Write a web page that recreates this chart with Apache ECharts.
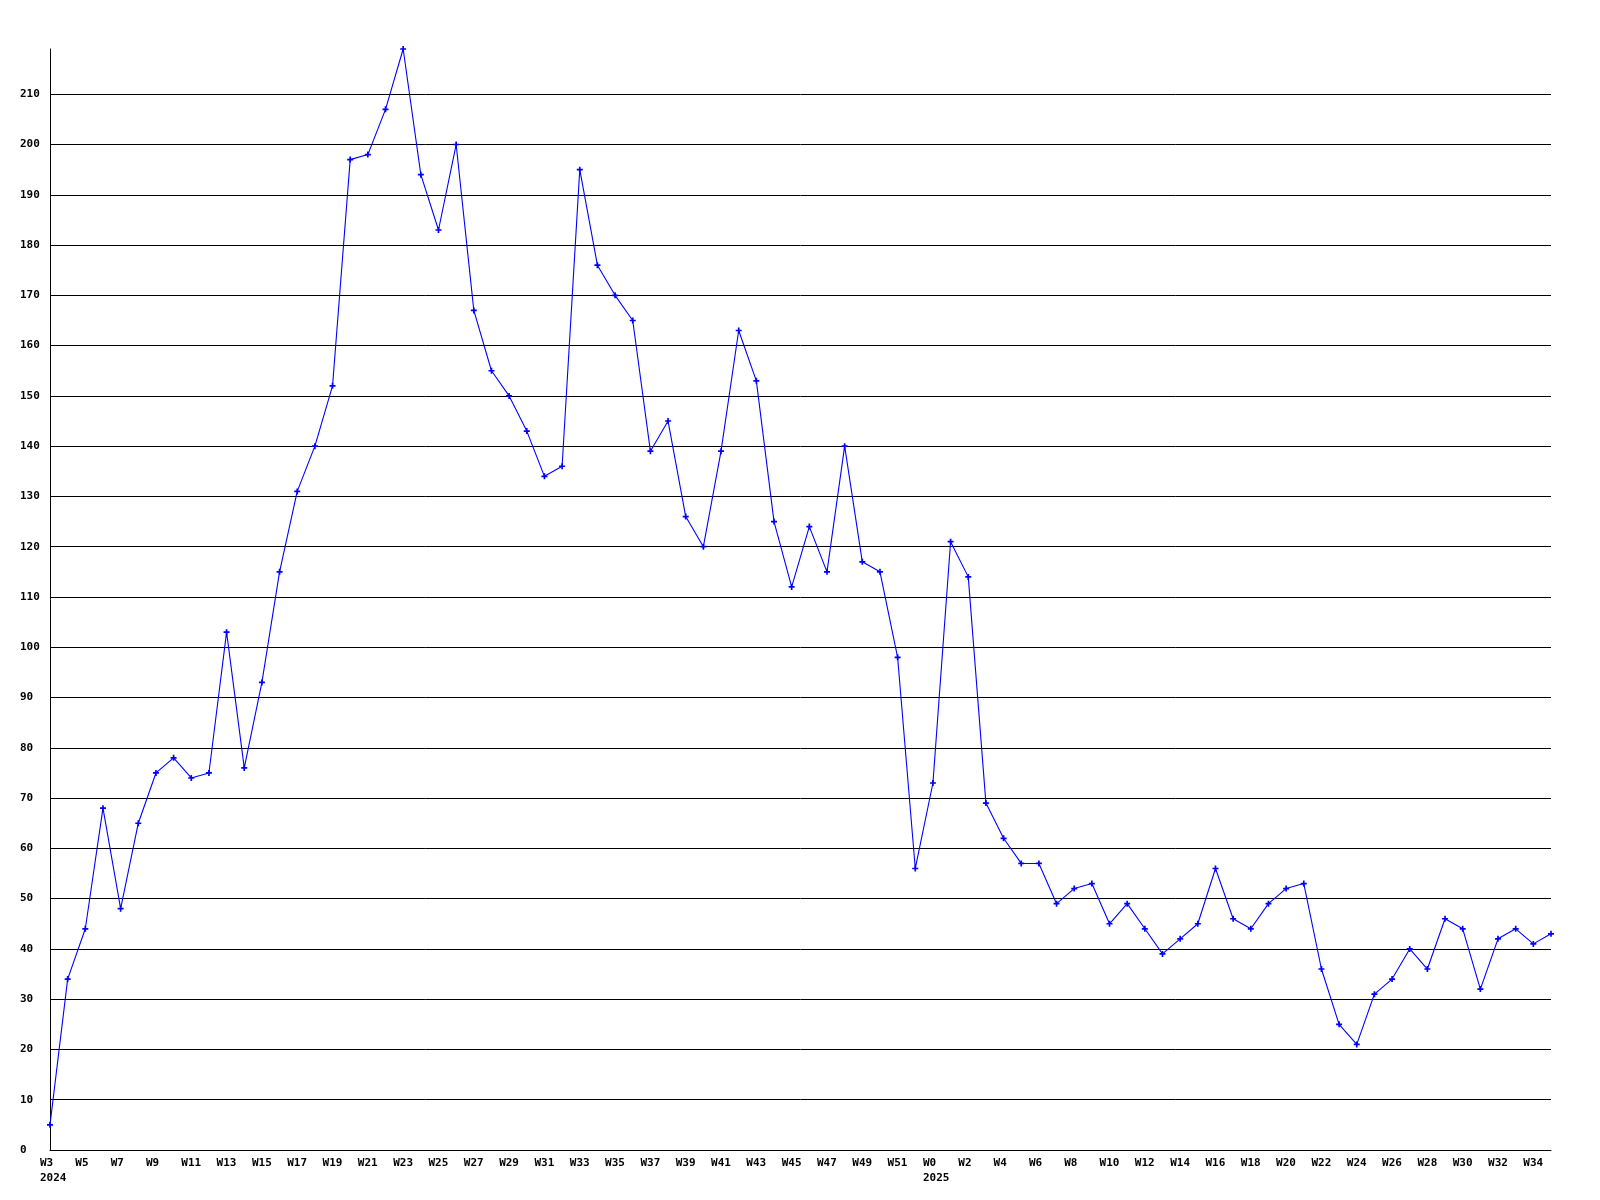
<!DOCTYPE html>
<html>
<head>
<meta charset="utf-8">
<script src="https://cdn.jsdelivr.net/npm/echarts@6/dist/echarts.min.js"></script>
<style>
html,body{margin:0;padding:0;background:#fff;}
#chart{width:1600px;height:1200px;}
</style>
</head>
<body>
<div id="chart"></div>
<script>
const weeks2024 = ['W3','W4','W5','W6','W7','W8','W9','W10','W11','W12','W13','W14','W15','W16','W17','W18','W19','W20','W21','W22','W23','W24','W25','W26','W27','W28','W29','W30','W31','W32','W33','W34','W35','W36','W37','W38','W39','W40','W41','W42','W43','W44','W45','W46','W47','W48','W49','W50','W51','W52'];
const values2024 = [5,34,44,68,48,65,75,78,74,75,103,76,93,115,131,140,152,197,198,207,219,194,183,200,167,155,150,143,134,136,195,176,170,165,139,145,126,120,139,163,153,125,112,124,115,140,117,115,98,56];
const weeks2025 = ['W0','W1','W2','W3','W4','W5','W6','W7','W8','W9','W10','W11','W12','W13','W14','W15','W16','W17','W18','W19','W20','W21','W22','W23','W24','W25','W26','W27','W28','W29','W30','W31','W32','W33','W34','W35'];
const values2025 = [73,121,114,69,62,57,57,49,52,53,45,49,44,39,42,45,56,46,44,49,52,53,36,25,21,31,34,40,36,46,44,32,42,44,41,43];
const yTickValues = [0,10,20,30,40,50,60,70,80,90,100,110,120,130,140,150,160,170,180,190,200,210];

const categories = weeks2024.map(w => '2024|' + w).concat(weeks2025.map(w => '2025|' + w));
const values = values2024.concat(values2025);
const yMax = Math.max.apply(null, values);

const chart = echarts.init(document.getElementById('chart'), null, {renderer: 'canvas'});
const font = {fontFamily: 'DejaVu Sans Mono', fontWeight: 'bold', fontSize: 11, color: '#000'};
chart.setOption({
  animation: false,
  backgroundColor: '#ffffff',
  grid: {left: 50, right: 49, top: 49, bottom: 50, containLabel: false, outerBoundsMode: 'none'},
  xAxis: {
    type: 'category',
    data: categories,
    boundaryGap: false,
    axisLine: {show: true, lineStyle: {color: '#000', width: 1}},
    axisTick: {show: false},
    splitLine: {show: false},
    axisLabel: Object.assign({}, font, {
      interval: 1,
      margin: 6,
      lineHeight: 15,
      align: 'left',
      padding: [0, 0, 0, -10],
      hideOverlap: false,
      formatter: function (v, idx) {
        const parts = v.split('|');
        const prev = idx > 0 ? categories[idx - 1].split('|')[0] : null;
        return parts[1] + (prev !== parts[0] ? '\n' + parts[0] : '');
      }
    })
  },
  yAxis: {
    type: 'value',
    min: 0,
    max: yMax,
    interval: 10,
    axisLine: {show: true, lineStyle: {color: '#000', width: 1}},
    axisTick: {show: false},
    splitLine: {show: true, showMaxLine: false, lineStyle: {color: '#000', width: 1}},
    axisLabel: Object.assign({}, font, {
      margin: 30,
      align: 'left',
      showMaxLabel: false,
      formatter: function (v) { return yTickValues.indexOf(v) >= 0 ? String(v) : ''; }
    })
  },
  series: [{
    type: 'line',
    data: values,
    symbol: 'path://M1.8,0H3.2V1.8H5V3.2H3.2V5H1.8V3.2H0V1.8H1.8Z',
    symbolSize: 6,
    showAllSymbol: true,
    lineStyle: {color: '#0000ff', width: 1.1},
    itemStyle: {color: '#0000ff'}
  }]
});
</script>
</body>
</html>
